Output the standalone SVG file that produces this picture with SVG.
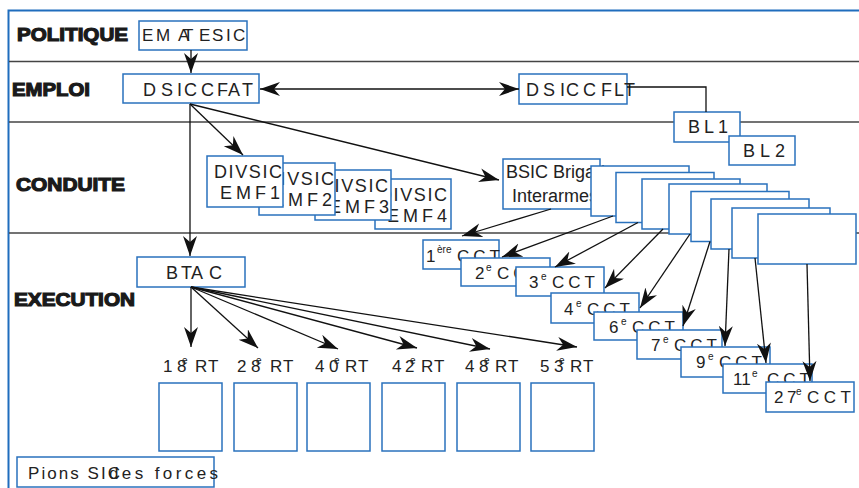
<svg xmlns="http://www.w3.org/2000/svg" width="859" height="488" viewBox="0 0 859 488">
<defs>
<marker id="ah" markerUnits="userSpaceOnUse" markerWidth="22" markerHeight="16" refX="20" refY="7" orient="auto-start-reverse"><path d="M0,0 L20,7 L0,14 L6,7 z" fill="#111"/></marker>
<style>
.box{fill:#fff;stroke:#2a72bd;stroke-width:1.5}
.sep{stroke:#444;stroke-width:1.5;fill:none}
.lvl{font-family:"Liberation Sans",Arial,sans-serif;font-weight:bold;font-size:19px;fill:#1a1a1a;stroke:#1a1a1a;stroke-width:1.2}
.t{font-family:"Liberation Sans",Arial,sans-serif;font-size:18px;fill:#222}
.c{font-family:"Liberation Sans",Arial,sans-serif;font-size:17px;fill:#222}
.sup{font-family:"Liberation Sans",Arial,sans-serif;font-size:10px;fill:#222}
.con line,.con path{stroke:#111;stroke-width:1.3;fill:none}
</style>
</defs>
<rect width="859" height="488" fill="#fff"/>
<path d="M8.5,488 V10.5 H859" fill="none" stroke="#1f6dbd" stroke-width="2"/>
<line class="sep" x1="9" y1="61.5" x2="859" y2="61.5"/>
<line class="sep" x1="9" y1="122" x2="859" y2="122"/>
<line class="sep" x1="9" y1="233" x2="859" y2="233"/>
<g id="levels">
<text class="lvl" x="17" y="41" textLength="111" lengthAdjust="spacingAndGlyphs">POLITIQUE</text>
<text class="lvl" x="12" y="96" textLength="78" lengthAdjust="spacingAndGlyphs">EMPLOI</text>
<text class="lvl" x="16" y="191" textLength="109" lengthAdjust="spacingAndGlyphs">CONDUITE</text>
<text class="lvl" x="14" y="306" textLength="121" lengthAdjust="spacingAndGlyphs">EXECUTION</text>
</g>
<g id="emat-esic"><rect class="box" x="139" y="21" width="108" height="29"/>
<text class="c" y="41" x="142 156 178 183 197 199 212 226 233">EMAT ESIC</text></g>
<g id="dsic-cfat"><rect class="box" x="123" y="74" width="136" height="29"/>
<text class="t" y="96" x="143 161 177 184 197 201 217 228 242">DSIC CFAT</text></g>
<g id="dsic-cflt"><rect class="box" x="519" y="74" width="108" height="30"/>
<text class="t" y="96" x="526 543 560 566 579 583 601 614 624">DSIC CFLT</text></g>
<g id="bl1"><rect class="box" x="674" y="112" width="66" height="30"/>
<text class="t" x="688" y="133" textLength="40">BL1</text></g>
<g id="bl2"><rect class="box" x="729" y="136" width="66" height="29"/>
<text class="t" x="743" y="157" textLength="42">BL2</text></g>
<g id="divsic-emf4"><rect class="box" x="375" y="179" width="76" height="50"/>
<text class="t" x="379" y="201" textLength="68">DIVSIC</text><text class="t" x="387" y="222" textLength="60">EMF4</text></g>
<g id="divsic-emf3"><rect class="box" x="315" y="170" width="76" height="50"/>
<text class="t" x="320" y="192" textLength="68">DIVSIC</text><text class="t" x="329" y="213" textLength="60">EMF3</text></g>
<g id="divsic-emf2"><rect class="box" x="259" y="163" width="76" height="52"/>
<text class="t" x="266" y="185" textLength="68">DIVSIC</text><text class="t" x="272" y="206" textLength="60">EMF2</text></g>
<g id="divsic-emf1"><rect class="box" x="207" y="156" width="76" height="51"/>
<text class="t" x="214" y="178" textLength="68">DIVSIC</text><text class="t" x="220" y="199" textLength="60">EMF1</text></g>
<g id="bsic-brigade"><rect class="box" x="503" y="159" width="97" height="50"/>
<text class="t" x="506" y="178">BSIC Brigade</text><text class="t" x="512" y="202">Interarmes</text></g>
<g id="stack">
<rect class="box" x="591" y="166" width="98" height="50"/>
<rect class="box" x="616" y="172.5" width="98" height="50"/>
<rect class="box" x="642" y="179" width="98" height="50"/>
<rect class="box" x="669" y="184" width="98" height="50"/>
<rect class="box" x="691" y="191.5" width="98" height="50"/>
<rect class="box" x="711" y="199" width="98" height="50"/>
<rect class="box" x="732" y="208" width="98" height="50"/>
<rect class="box" x="758" y="214" width="98" height="50"/>
</g>
<g id="cct1"><rect class="box" x="423" y="240" width="76" height="29"/>
<text class="c" x="426" y="262">1</text><text class="sup" x="437" y="253">ère</text><text class="c" x="457" y="262" textLength="43">CCT</text></g>
<g id="cct2"><rect class="box" x="461" y="258" width="89" height="28"/>
<text class="c" x="475" y="279">2</text><text class="sup" x="486" y="271">e</text><text class="c" x="497" y="279" textLength="43">CCT</text></g>
<g id="cct3"><rect class="box" x="516" y="267" width="88" height="29"/>
<text class="c" x="529" y="288">3</text><text class="sup" x="541" y="280">e</text><text class="c" x="552" y="288" textLength="43">CCT</text></g>
<g id="cct4"><rect class="box" x="551" y="293" width="88" height="30"/>
<text class="c" x="564" y="315">4</text><text class="sup" x="576" y="307">e</text><text class="c" x="587" y="315" textLength="43">CCT</text></g>
<g id="cct6"><rect class="box" x="594" y="312" width="89" height="28"/>
<text class="c" x="609" y="333">6</text><text class="sup" x="621" y="325">e</text><text class="c" x="632" y="333" textLength="43">CCT</text></g>
<g id="cct7"><rect class="box" x="637" y="330" width="85" height="29"/>
<text class="c" x="651" y="351">7</text><text class="sup" x="663" y="343">e</text><text class="c" x="674" y="351" textLength="43">CCT</text></g>
<g id="cct9"><rect class="box" x="681" y="347" width="89" height="30"/>
<text class="c" x="696" y="368">9</text><text class="sup" x="708" y="360">e</text><text class="c" x="719" y="368" textLength="43">CCT</text></g>
<g id="cct11"><rect class="box" x="723" y="364" width="89" height="29"/>
<text class="c" x="733" y="385">11</text><text class="sup" x="752" y="377">e</text><text class="c" x="767" y="385" textLength="43">CCT</text></g>
<g id="cct27"><rect class="box" x="766" y="382" width="88" height="30"/>
<text class="c" y="403" x="774 787">27</text><text class="sup" x="796" y="395">e</text><text class="c" x="807" y="403" textLength="44">CCT</text></g>
<g id="btac"><rect class="box" x="137" y="257" width="108" height="30"/>
<text class="t" y="279" x="166 178 181 191 203 209">B TA C</text></g>
<g id="rt18"><text class="c" y="372" x="163 177">18</text><text class="sup" x="182" y="364">e</text><text class="c" y="372" x="195 208">RT</text><rect class="box" x="159" y="383" width="63" height="68"/></g>
<g id="rt28"><text class="c" y="372" x="237 251">28</text><text class="sup" x="256" y="364">e</text><text class="c" y="372" x="270 283">RT</text><rect class="box" x="234" y="383" width="63" height="68"/></g>
<g id="rt40"><text class="c" y="372" x="315 329">40</text><text class="sup" x="334" y="364">e</text><text class="c" y="372" x="345 358">RT</text><rect class="box" x="307" y="383" width="63" height="68"/></g>
<g id="rt42"><text class="c" y="372" x="392 405">42</text><text class="sup" x="410" y="364">e</text><text class="c" y="372" x="421 434">RT</text><rect class="box" x="382" y="383" width="63" height="68"/></g>
<g id="rt48"><text class="c" y="372" x="465 479">48</text><text class="sup" x="484" y="364">e</text><text class="c" y="372" x="495 508">RT</text><rect class="box" x="457" y="383" width="63" height="68"/></g>
<g id="rt53"><text class="c" y="372" x="540 554">53</text><text class="sup" x="559" y="364">e</text><text class="c" y="372" x="570 583">RT</text><rect class="box" x="531" y="383" width="63" height="68"/></g>
<g id="pions"><rect class="box" x="17" y="457" width="197" height="30"/>
<text class="c" x="28" y="479" textLength="92">Pions SIC</text><text class="c" x="109" y="479" textLength="109">des forces</text></g>
<g id="connectors" class="con">
<line x1="191" y1="50" x2="191" y2="73" marker-end="url(#ah)"/>
<line x1="260" y1="89" x2="519" y2="89" marker-start="url(#ah)" marker-end="url(#ah)"/>
<path d="M627,87 H706 V112"/>
<line x1="190" y1="104" x2="190" y2="256" marker-end="url(#ah)"/>
<line x1="190" y1="104" x2="243" y2="155" marker-end="url(#ah)"/>
<line x1="190" y1="104" x2="499" y2="180" marker-end="url(#ah)"/>
<line x1="551" y1="209" x2="462" y2="236" marker-end="url(#ah)"/>
<line x1="613" y1="216" x2="502" y2="257" marker-end="url(#ah)"/>
<line x1="638" y1="222.5" x2="555" y2="267" marker-end="url(#ah)"/>
<line x1="663" y1="229" x2="605" y2="288" marker-end="url(#ah)"/>
<line x1="690" y1="234" x2="640" y2="308" marker-end="url(#ah)"/>
<line x1="710" y1="241.5" x2="683" y2="326" marker-end="url(#ah)"/>
<line x1="729" y1="249" x2="725" y2="346" marker-end="url(#ah)"/>
<line x1="755" y1="258" x2="766" y2="363" marker-end="url(#ah)"/>
<line x1="807" y1="264" x2="810" y2="381" marker-end="url(#ah)"/>
<line x1="191" y1="287" x2="191" y2="347" marker-end="url(#ah)"/>
<line x1="191" y1="287" x2="258" y2="348" marker-end="url(#ah)"/>
<line x1="191" y1="287" x2="338" y2="349" marker-end="url(#ah)"/>
<line x1="191" y1="287" x2="417" y2="348" marker-end="url(#ah)"/>
<line x1="191" y1="287" x2="490" y2="349" marker-end="url(#ah)"/>
<line x1="191" y1="287" x2="577" y2="347" marker-end="url(#ah)"/>
</g>
</svg>
